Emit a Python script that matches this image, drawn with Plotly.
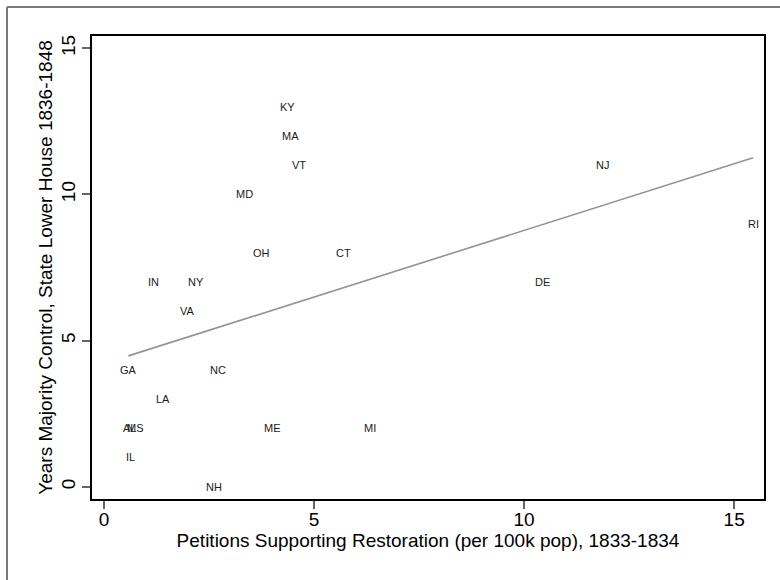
import numpy as np
import plotly.graph_objects as go

# State-level data: petitions per 100k population (1833-1834) and
# years of majority control of the state lower house (1836-1848)
states = ["KY", "MA", "VT", "MD", "OH", "CT", "IN", "NY", "VA", "GA", "NC",
          "LA", "AL", "MS", "IL", "NH", "ME", "MI", "NJ", "RI", "DE"]
petitions = [4.36, 4.43, 4.65, 3.35, 3.74, 5.71, 1.17, 2.18, 1.98, 0.58, 2.71,
             1.40, 0.61, 0.76, 0.63, 2.61, 4.00, 6.34, 11.87, 15.45, 10.44]
years_control = [13, 12, 11, 10, 8, 8, 7, 7, 6, 4, 4,
                 3, 2, 2, 1, 0, 2, 2, 11, 9, 7]

x_ticks = [0, 5, 10, 15]
y_ticks = [0, 5, 10, 15]

# Linear fit over the observed range of petitions
slope, intercept = np.polyfit(petitions, years_control, 1)
fit_x = np.array([min(petitions), max(petitions)])
fit_y = intercept + slope * fit_x

FONT = "Liberation Sans, Arial, Helvetica, sans-serif"

fig = go.Figure()

fig.add_trace(go.Scatter(
    x=fit_x, y=fit_y, mode="lines",
    line=dict(color="#939393", width=1.6),
    hoverinfo="skip", showlegend=False,
))

# State abbreviations placed at each state's value
for name, px, py in zip(states, petitions, years_control):
    fig.add_annotation(
        x=px, y=py, text=name, showarrow=False,
        xanchor="center", yanchor="middle",
        font=dict(family=FONT, size=11, color="#1a1a1a"),
    )

axis_common = dict(
    showgrid=False, zeroline=False,
    showline=True, linecolor="#000000", linewidth=1.5, mirror=True,
    ticks="outside", ticklen=8, tickwidth=1.5, tickcolor="#666666",
    tickfont=dict(family=FONT, size=19, color="#000000"),
)

fig.update_xaxes(
    range=[-0.286, 15.71], tickvals=x_ticks, ticktext=[str(v) for v in x_ticks],
    ticklabelstandoff=-6,
    title=dict(text="Petitions Supporting Restoration (per 100k pop), 1833-1834",
               font=dict(family=FONT, size=19, color="#000000"), standoff=0),
    **axis_common,
)
fig.update_yaxes(
    range=[-0.42, 15.42], tickvals=y_ticks, ticktext=[str(v) for v in y_ticks],
    tickangle=-90,
    title=dict(text="Years Majority Control, State Lower House 1836-1848",
               font=dict(family=FONT, size=19, color="#000000"), standoff=0),
    **axis_common,
)

# Outer frame (top and left edges)
frame_x = (7 - 92) / 672
frame_y = (499 - 7) / 463
fig.add_shape(type="line", xref="paper", yref="paper",
              x0=frame_x, x1=1.5, y0=frame_y, y1=frame_y,
              line=dict(color="#7a7a7a", width=2))
fig.add_shape(type="line", xref="paper", yref="paper",
              x0=frame_x, x1=frame_x, y0=-1.0, y1=frame_y,
              line=dict(color="#7a7a7a", width=2))

fig.update_layout(
    width=780, height=580,
    margin=dict(l=92, r=16, t=36, b=81, autoexpand=False),
    paper_bgcolor="#ffffff", plot_bgcolor="#ffffff",
    font=dict(family=FONT, color="#000000"),
)

fig.write_html("out.html")
